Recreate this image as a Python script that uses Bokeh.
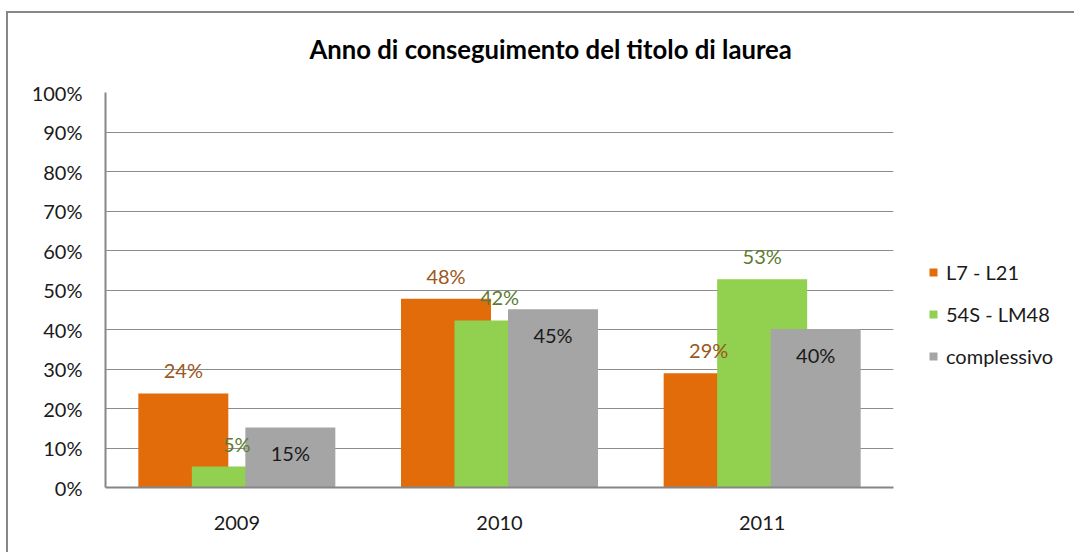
from bokeh.plotting import figure
from bokeh.models import (ColumnDataSource, FactorRange, FixedTicker, NumeralTickFormatter,
                          LabelSet, Legend, LegendItem, Title)
from bokeh.core.properties import value
from bokeh.transform import dodge
from bokeh.embed import file_html
from bokeh.resources import INLINE

years = ["2009", "2010", "2011"]
l7_l21 = [0.238, 0.478, 0.289]
s54_lm48 = [0.053, 0.423, 0.527]
complessivo = [0.152, 0.451, 0.401]
series_names = ["L7 - L21", "54S - LM48", "complessivo"]
y_ticks = [0.0, 0.1, 0.2, 0.3, 0.4, 0.5, 0.6, 0.7, 0.8, 0.9, 1.0]
title_text = "Anno di conseguimento del titolo di laurea"

FONT = "Lato"
FS = "20px"
colors = ["#E36C0A", "#92D050", "#A5A5A5"]
label_colors = ["#9C5621", "#5E7B31", "#1A1A1A"]

def pct(v):
    return ["{:.0f}%".format(x * 100) for x in v]

src = ColumnDataSource(dict(
    year=years,
    a=l7_l21, b=s54_lm48, c=complessivo,
    la=pct(l7_l21), lb=pct(s54_lm48), lc=pct(complessivo),
))

p = figure(x_range=FactorRange(*years), y_range=(0, 1),
           width=1074, height=552, output_backend="svg", toolbar_location=None,
           min_border_left=105, min_border_right=181, min_border_top=92, min_border_bottom=65,
           frame_width=788, frame_height=395)
# chart-area frame (left and top edges) drawn as the host element background
p.styles = {
    "background-image": "linear-gradient(#878787, #878787), linear-gradient(#878787, #878787)",
    "background-size": "2px 100%, 100% 2px",
    "background-position": "6px 11px, 6px 11px",
    "background-repeat": "no-repeat",
}
p.outline_line_color = None
p.background_fill_color = "white"
p.border_fill_alpha = 0

off = 0.2037
bw = 0.3426
renderers = []
for col, dx, color in zip(["a", "b", "c"], [-off, 0, off], colors):
    r = p.vbar(x=dodge("year", dx, range=p.x_range), top=col, width=bw, source=src,
               fill_color=color, line_color=None)
    renderers.append(r)

# data labels
for col, ycol, dx, color, yo in zip(["la", "lb", "lc"], ["a", "b", "c"], [-off, 0, off],
                                    label_colors, [23, 23, -26]):
    ls = LabelSet(x=dodge("year", dx, range=p.x_range), y=ycol, text=col, source=src,
                  y_offset=yo, text_align="center", text_baseline="middle",
                  text_font=value(FONT), text_font_size=value(FS), text_color=value(color))
    p.add_layout(ls)

# axes
p.yaxis.ticker = FixedTicker(ticks=y_ticks)
p.yaxis.formatter = NumeralTickFormatter(format="0%")
for ax in (p.xaxis[0], p.yaxis[0]):
    ax.major_tick_line_color = None
    ax.minor_tick_line_color = None
    ax.axis_line_color = "#868686"
    ax.axis_line_width = 2
    ax.major_label_text_font = FONT
    ax.major_label_text_font_size = FS
    ax.major_label_text_color = "#1A1A1A"
p.yaxis.major_label_standoff = 17
p.xaxis.major_label_standoff = 22
p.xgrid.grid_line_color = None
p.ygrid.grid_line_color = "#8C8C8C"
p.ygrid.grid_line_width = 1
p.x_range.range_padding = 0
p.x_range.group_padding = 0

legend = Legend(items=[LegendItem(label=n, renderers=[r]) for n, r in zip(series_names, renderers)],
                location=(35, 119), orientation="vertical",
                glyph_width=10, glyph_height=10, label_height=24, spacing=18,
                label_standoff=8, padding=0, margin=0, border_line_color=None,
                background_fill_alpha=0,
                label_text_font=FONT, label_text_font_size=FS, label_text_color="#1A1A1A")
p.add_layout(legend, "right")

t = Title(text=title_text, align="left", offset=204, standoff=57, vertical_align="bottom",
          text_font=FONT, text_font_size="25.7px", text_font_style="bold", text_color="#000000")
p.add_layout(t, "above")

open("out.html", "w").write(file_html(p, INLINE))
